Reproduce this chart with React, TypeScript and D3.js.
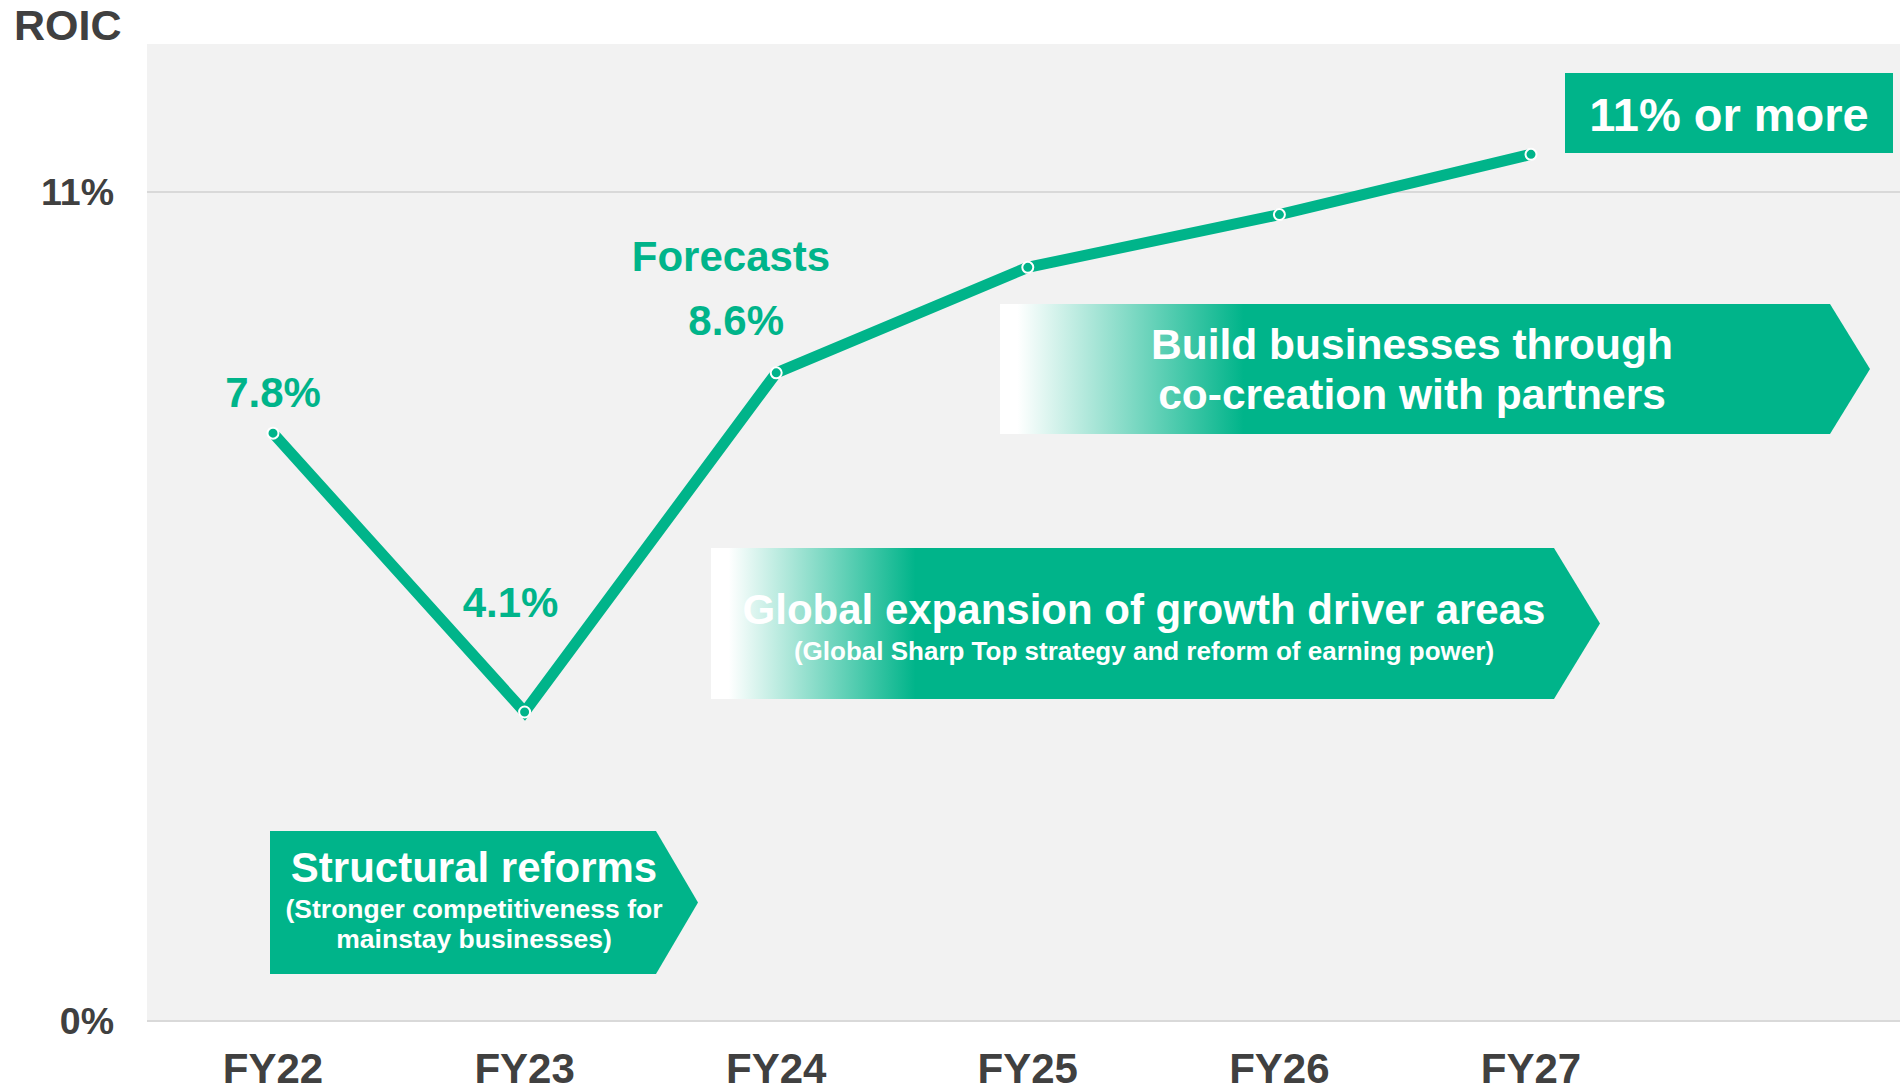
import React, { useEffect } from "react";
import * as d3 from "d3";

const years = ["FY22", "FY23", "FY24", "FY25", "FY26", "FY27"];
const roic = [7.8, 4.1, 8.6, 10.0, 10.7, 11.5];
const yTicks = [0, 11];
const yTickLabels = ["0%", "11%"];
const valueLabels = ["7.8%", "4.1%", "8.6%"];
const forecastLabel = "Forecasts";
const targetLabel = "11% or more";
const axisTitle = "ROIC";
const phase1 = ["Structural reforms", "(Stronger competitiveness for", "mainstay businesses)"];
const phase2 = ["Global expansion of growth driver areas", "(Global Sharp Top strategy and reform of earning power)"];
const phase3 = ["Build businesses through", "co-creation with partners"];

const W = 1900;
const H = 1092;
const GREEN = "#00B48A";
const GRAY = "#404040";
const FONT = "'Liberation Sans', Arial, Helvetica, sans-serif";

export default function App() {
  useEffect(() => {
    document.body.style.margin = "0";
  }, []);

  const x = d3.scalePoint<string>().domain(years).range([273, 1531]);
  const y = d3.scaleLinear().domain([0, 11]).range([1021, 192]);
  const line = d3
    .line<number>()
    .x((_, i) => x(years[i]) as number)
    .y((d) => y(d));

  const pts = roic.map((v, i) => ({ px: x(years[i]) as number, py: y(v) }));

  const arrow = (x0: number, x1: number, tip: number, y0: number, y1: number) =>
    `M${x0},${y0}L${x1},${y0}L${tip},${(y0 + y1) / 2}L${x1},${y1}L${x0},${y1}Z`;

  const labelOffsets = [
    { dx: 0, dy: -26 },
    { dx: -14, dy: -95 },
    { dx: -40, dy: -38 },
  ];

  return (
    <svg
      width={W}
      height={H}
      style={{ position: "absolute", left: 0, top: 0, display: "block", background: "#fff" }}
      fontFamily={FONT}
      fontWeight="bold"
    >
      <defs>
        <linearGradient id="g2" x1="0" x2="1" y1="0" y2="0">
          <stop offset="0" stopColor="#ffffff" />
          <stop offset="0.02" stopColor="#ffffff" />
          <stop offset="0.23" stopColor={GREEN} />
          <stop offset="1" stopColor={GREEN} />
        </linearGradient>
        <linearGradient id="g3" x1="0" x2="1" y1="0" y2="0">
          <stop offset="0" stopColor="#ffffff" />
          <stop offset="0.02" stopColor="#ffffff" />
          <stop offset="0.28" stopColor={GREEN} />
          <stop offset="1" stopColor={GREEN} />
        </linearGradient>
      </defs>

      {/* plot background */}
      <rect x={147} y={44} width={W - 147} height={y(0) - 44} fill="#F2F2F2" />

      {/* gridlines */}
      {yTicks.map((t) => (
        <line key={t} x1={147} x2={W} y1={y(t)} y2={y(t)} stroke="#D9D9D9" strokeWidth={2} />
      ))}

      {/* y tick labels */}
      {yTicks.map((t, i) => (
        <text key={t} x={114} y={y(t) + 13} textAnchor="end" fontSize={37.5} fill={GRAY}>
          {yTickLabels[i]}
        </text>
      ))}

      <text x={14} y={40} fontSize={43} fill={GRAY}>
        {axisTitle}
      </text>

      {/* x labels */}
      {years.map((yr) => (
        <text key={yr} x={x(yr)} y={1083} textAnchor="middle" fontSize={42} fill={GRAY}>
          {yr}
        </text>
      ))}

      {/* phase arrows */}
      <path d={arrow(270, 656, 698, 831, 974)} fill={GREEN} />
      <text x={474} y={882} textAnchor="middle" fontSize={42} fill="#fff">
        {phase1[0]}
      </text>
      <text x={474} y={918} textAnchor="middle" fontSize={26.5} fill="#fff">
        {phase1[1]}
      </text>
      <text x={474} y={948} textAnchor="middle" fontSize={26.5} fill="#fff">
        {phase1[2]}
      </text>

      <path d={arrow(711, 1554, 1600, 548, 699)} fill="url(#g2)" />
      <text x={1144} y={624} textAnchor="middle" fontSize={42} fill="#fff">
        {phase2[0]}
      </text>
      <text x={1144} y={660} textAnchor="middle" fontSize={26} fill="#fff">
        {phase2[1]}
      </text>

      <path d={arrow(1000, 1830, 1870, 304, 434)} fill="url(#g3)" />
      <text x={1412} y={359} textAnchor="middle" fontSize={42.5} fill="#fff">
        {phase3[0]}
      </text>
      <text x={1412} y={409} textAnchor="middle" fontSize={42.5} fill="#fff">
        {phase3[1]}
      </text>

      {/* target box */}
      <rect x={1565} y={73} width={328} height={80} fill={GREEN} />
      <text x={1729} y={131} textAnchor="middle" fontSize={47} fill="#fff">
        {targetLabel}
      </text>

      {/* line */}
      <path d={line(roic) || ""} fill="none" stroke={GREEN} strokeWidth={11} strokeLinejoin="miter" />
      {pts.map((p, i) => (
        <circle key={i} cx={p.px} cy={p.py} r={5.5} fill={GREEN} stroke="#fff" strokeWidth={2} />
      ))}

      {/* value labels */}
      {valueLabels.map((lab, i) => (
        <text
          key={lab}
          x={pts[i].px + labelOffsets[i].dx}
          y={pts[i].py + labelOffsets[i].dy}
          textAnchor="middle"
          fontSize={42}
          fill={GREEN}
        >
          {lab}
        </text>
      ))}
      <text x={731} y={271} textAnchor="middle" fontSize={42} fill={GREEN}>
        {forecastLabel}
      </text>
    </svg>
  );
}
